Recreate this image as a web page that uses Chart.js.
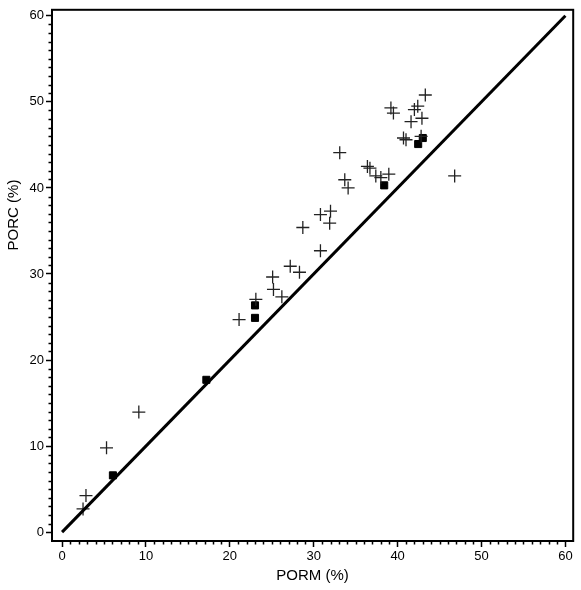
<!DOCTYPE html>
<html>
<head>
<meta charset="utf-8">
<script src="https://cdn.jsdelivr.net/npm/chart.js@4.4.1/dist/chart.umd.min.js"></script>
<style>
  html, body { margin: 0; padding: 0; background: #fff; }
  #wrap { width: 581px; height: 590px; }
</style>
</head>
<body>
<div id="wrap"><canvas id="chart" width="581" height="590"></canvas></div>
<script>
// PORM vs PORC - cruzes (+) e quadrados, com linha 1:1

// pontos "+"
const crossPorm = [2.5, 2.85, 5.3, 9.15, 21.1, 23.1, 25.1, 25.2, 26.2, 27.2, 28.3, 28.7,
  30.8, 30.8, 32.0, 31.9, 33.1, 33.7, 34.1, 36.4, 36.7, 37.4, 38.0, 38.95,
  39.2, 39.5, 40.7, 41.0, 41.6, 42.0, 42.4, 42.9, 42.8, 43.3, 46.8];
const crossPorc = [2.7, 4.25, 9.8, 13.95, 24.7, 27.05, 29.65, 28.2, 27.35, 30.9, 30.2, 35.4,
  32.7, 36.9, 37.3, 35.9, 44.1, 40.95, 40.0, 42.5, 42.3, 41.4, 41.2, 41.6,
  49.3, 48.7, 45.8, 45.6, 47.7, 49.1, 49.5, 48.1, 46.0, 50.8, 41.4];

// pontos quadrados
const squarePorm = [6.06, 17.2, 23.0, 23.0, 38.4, 42.45, 43.0];
const squarePorc = [6.6, 17.7, 24.9, 26.35, 40.3, 45.1, 45.8];

// linha 1:1
const linePorm = [0, 60];
const linePorc = [0, 60];

const tickValues = [0, 10, 20, 30, 40, 50, 60];

function toPoints(xs, ys) {
  return xs.map((x, i) => ({ x: x, y: ys[i] }));
}

const FONT = "'Liberation Sans', Arial, Helvetica, sans-serif";

// moldura, ticks menores e título do eixo Y
const framePlugin = {
  id: 'frame',
  afterDraw(chart) {
    const { ctx, chartArea: a, scales } = chart;
    ctx.save();
    ctx.strokeStyle = '#000';
    ctx.lineWidth = 2;
    ctx.strokeRect(a.left, a.top, a.right - a.left, a.bottom - a.top);

    ctx.lineWidth = 1.5;
    ctx.beginPath();
    for (let v = 0; v <= 60; v++) {
      if (v % 10 === 0) continue;
      const px = Math.round(scales.x.getPixelForValue(v)) + 0.5;
      ctx.moveTo(px, a.bottom);
      ctx.lineTo(px, a.bottom + 3.5);
      const py = Math.round(scales.y.getPixelForValue(v)) + 0.5;
      ctx.moveTo(a.left, py);
      ctx.lineTo(a.left - 3.5, py);
    }
    ctx.stroke();

    ctx.fillStyle = '#000';
    ctx.font = '15px ' + FONT;
    ctx.textAlign = 'center';
    ctx.textBaseline = 'middle';
    ctx.translate(14, 215);
    ctx.rotate(-Math.PI / 2);
    ctx.fillText('PORC (%)', 0, 0);
    ctx.restore();
  }
};

function axis(isX) {
  return {
    type: 'linear',
    min: isX ? -1.2 : -1.03,
    max: isX ? 60.93 : 60.7,
    afterBuildTicks: scale => { scale.ticks = tickValues.map(v => ({ value: v })); },
    afterFit: scale => {
      if (isX) scale.height = 49; else scale.width = 52;
    },
    border: { display: true, color: '#000', width: 2 },
    grid: { drawOnChartArea: false, drawTicks: true, tickLength: 6, tickColor: '#000', tickWidth: 1.5 },
    ticks: { color: '#000', font: { size: 13, family: FONT }, padding: 2, maxRotation: 0 },
    title: isX
      ? { display: true, text: 'PORM (%)', color: '#000', font: { size: 15, family: FONT }, padding: { top: 0, bottom: 5 } }
      : { display: false }
  };
}

new Chart(document.getElementById('chart'), {
  type: 'scatter',
  data: {
    datasets: [
      {
        type: 'line',
        data: toPoints(linePorm, linePorc),
        borderColor: '#000',
        borderWidth: 3,
        pointRadius: 0,
        fill: false
      },
      {
        data: toPoints(crossPorm, crossPorc),
        pointStyle: 'cross',
        pointRadius: 6.5,
        borderColor: '#222',
        borderWidth: 1.3,
        backgroundColor: '#222'
      },
      {
        data: toPoints(squarePorm, squarePorc),
        pointStyle: 'rect',
        pointRadius: 5,
        borderColor: '#000',
        borderWidth: 1,
        backgroundColor: '#000'
      }
    ]
  },
  options: {
    responsive: false,
    animation: false,
    layout: { padding: { top: 4, right: 6, left: 0, bottom: 0 } },
    plugins: { legend: { display: false }, tooltip: { enabled: false } },
    scales: { x: axis(true), y: axis(false) }
  },
  plugins: [framePlugin]
});
</script>
</body>
</html>
